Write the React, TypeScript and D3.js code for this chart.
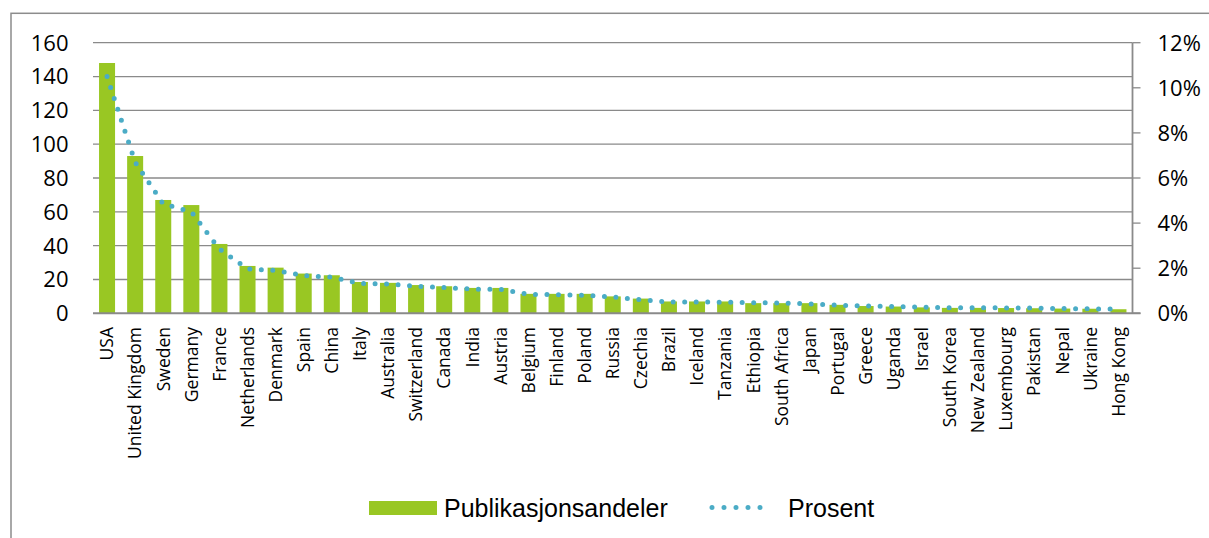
import React from "react";
import * as d3 from "d3";

const categories = [
  "USA", "United Kingdom", "Sweden", "Germany", "France", "Netherlands", "Denmark",
  "Spain", "China", "Italy", "Australia", "Switzerland", "Canada", "India", "Austria",
  "Belgium", "Finland", "Poland", "Russia", "Czechia", "Brazil", "Iceland", "Tanzania",
  "Ethiopia", "South Africa", "Japan", "Portugal", "Greece", "Uganda", "Israel",
  "South Korea", "New Zealand", "Luxembourg", "Pakistan", "Nepal", "Ukraine", "Hong Kong",
];

const shares = [
  148, 93, 67, 64, 41, 28, 27, 23.5, 22.5, 18.5, 18, 16.7, 16, 15, 15,
  11.5, 11.5, 11.5, 10, 8.7, 7, 7, 7, 6, 6, 6, 5, 4.3, 4, 3.5,
  3.2, 3.2, 3.1, 3, 2.8, 2.7, 2.4,
];

const percent = [
  10.5, 6.7, 4.85, 4.5, 2.85, 1.97, 1.9, 1.67, 1.6, 1.32, 1.3, 1.2, 1.14, 1.07, 1.06,
  0.84, 0.83, 0.8, 0.72, 0.6, 0.5, 0.5, 0.49, 0.47, 0.46, 0.42, 0.36, 0.33, 0.3, 0.27,
  0.25, 0.25, 0.24, 0.23, 0.21, 0.2, 0.18,
];

const leftTicks = [0, 20, 40, 60, 80, 100, 120, 140, 160];
const rightTicks = [0, 2, 4, 6, 8, 10, 12];

const seriesNames = ["Publikasjonsandeler", "Prosent"];

const W = 1209;
const H = 538;
const plot = { left: 93, right: 1132.5, top: 42.7, bottom: 313.3 };
const BAR = "#99c723";
const DOT = "#4bacc6";
const GRID = "#8a8a8a";
const TICKFONT = "'Open Sans', sans-serif";

export default function App() {
  const yL = d3.scaleLinear().domain([0, 160]).range([plot.bottom, plot.top]);
  const yR = d3.scaleLinear().domain([0, 12]).range([plot.bottom, plot.top]);
  const x = d3
    .scaleBand<string>()
    .domain(categories)
    .range([plot.left, plot.right]);
  const band = x.bandwidth();
  const center = (c: string) => (x(c) as number) + band / 2;
  const barW = band * 0.57;

  const line = d3
    .line<number>()
    .x((_, i) => center(categories[i]))
    .y((d) => yR(d));

  return (
    <svg
      width={W}
      height={H}
      style={{ position: "absolute", left: 0, top: 0, background: "#fff" }}
    >
      <rect x={0} y={0} width={W} height={H} fill="#fff" />
      <rect x={11} y={13.3} width={1400} height={800} fill="none" stroke="#8c8c8c" strokeWidth={1.5} />

      {leftTicks.slice(1).map((t) => (
        <line key={t} x1={plot.left} x2={plot.right} y1={yL(t)} y2={yL(t)} stroke={GRID} strokeWidth={1.3} />
      ))}

      {leftTicks.map((t) => (
        <text
          key={t}
          x={68.5}
          y={yL(t)}
          dy="0.36em"
          textAnchor="end"
          fontFamily={TICKFONT}
          fontSize={22}
          fill="#000"
        >
          {t}
        </text>
      ))}

      {shares.map((v, i) => (
        <rect
          key={categories[i]}
          x={center(categories[i]) - barW / 2}
          y={yL(v)}
          width={barW}
          height={yL(0) - yL(v)}
          fill={BAR}
        />
      ))}

      <line x1={plot.left} x2={plot.right + 8} y1={plot.bottom} y2={plot.bottom} stroke={GRID} strokeWidth={2} />

      <line x1={plot.right} x2={plot.right} y1={plot.top} y2={plot.bottom} stroke={GRID} strokeWidth={1.8} />
      {rightTicks.map((t) => (
        <g key={t}>
          <line x1={plot.right} x2={plot.right + 8} y1={yR(t)} y2={yR(t)} stroke={GRID} strokeWidth={1.3} />
          <text
            x={1157.5}
            y={yR(t)}
            dy="0.36em"
            fontFamily={TICKFONT}
            fontSize={22}
            fill="#000"
          >
            {t}%
          </text>
        </g>
      ))}

      <path
        d={line(percent) || ""}
        fill="none"
        stroke={DOT}
        strokeWidth={5}
        strokeLinecap="round"
        strokeDasharray="0 11.5"
      />

      {categories.map((c) => (
        <text
          key={c}
          transform={`translate(${center(c)},${327}) rotate(-90)`}
          dy="0.36em"
          textAnchor="end"
          fontFamily={TICKFONT}
          fontSize={17.5}
          fill="#000"
        >
          {c}
        </text>
      ))}

      <rect x={369} y={501} width={68} height={14} fill={BAR} />
      <text x={444} y={508} dy="0.36em" fontFamily="'Liberation Sans', Arial, sans-serif" fontSize={25} fill="#000">
        {seriesNames[0]}
      </text>
      <line
        x1={712}
        x2={772}
        y1={507.5}
        y2={507.5}
        stroke={DOT}
        strokeWidth={5}
        strokeLinecap="round"
        strokeDasharray="0 12"
      />
      <text x={788} y={508} dy="0.36em" fontFamily="'Liberation Sans', Arial, sans-serif" fontSize={25} fill="#000">
        {seriesNames[1]}
      </text>
    </svg>
  );
}
